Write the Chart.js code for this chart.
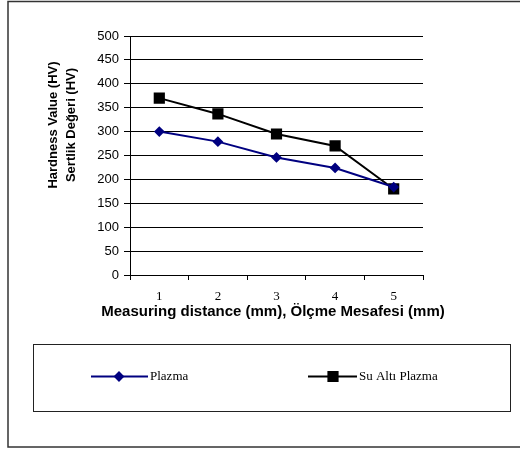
<!DOCTYPE html>
<html>
<head>
<meta charset="utf-8">
<script src="https://cdn.jsdelivr.net/npm/chart.js@4"></script>
<style>
    body { margin: 0; background: #fff; }
    canvas { display: block; }
</style>
</head>
<body>
<canvas id="hardness-chart" width="520" height="450"></canvas>
<script>
// values
const categories = ['1', '2', '3', '4', '5'];
const plazmaValues = [300, 279, 246, 224, 184];
const suAltiValues = [370, 337, 295, 270, 180];
const seriesNames = ['Plazma', 'Su Altı Plazma'];
const yMin = 0;
const yMax = 500;
const yStep = 50;
const xTitle = 'Measuring distance (mm), Ölçme Mesafesi (mm)';
const yTitleLines = ['Hardness Value (HV)', 'Sertlik Değeri (HV)'];

// draws the outer frame, the boxed legend and the axis titles
// (the x title is wider than the plot, so chart.js would squash it)
const framePlugin = {
    id: 'frame',
    afterDraw(chart) {
        const ctx = chart.ctx;
        ctx.save();

        // outer frame (right side runs off the picture)
        ctx.strokeStyle = '#333';
        ctx.lineWidth = 1.5;
        ctx.strokeRect(8, 1.5, 530, 445.5);

        // legend box
        ctx.strokeStyle = '#222';
        ctx.lineWidth = 1;
        ctx.strokeRect(33.5, 344.5, 477, 67);

        const items = [
            { x: 91, w: 57, mark: 119 },
            { x: 308, w: 49, mark: 333 }
        ];
        chart.data.datasets.forEach((ds, i) => {
            const it = items[i];
            const y = 376.5;
            ctx.strokeStyle = ds.borderColor;
            ctx.lineWidth = 2;
            ctx.beginPath();
            ctx.moveTo(it.x, y);
            ctx.lineTo(it.x + it.w, y);
            ctx.stroke();
            Chart.helpers.drawPoint(ctx, {
                pointStyle: ds.pointStyle,
                radius: ds.pointRadius,
                borderWidth: 1,
                rotation: 0
            }, it.mark, y);
            ctx.fillStyle = ds.pointBackgroundColor;
            ctx.fill();
            ctx.fillStyle = '#000';
            ctx.font = '13px "Liberation Serif", "Times New Roman", serif';
            ctx.textAlign = 'left';
            ctx.textBaseline = 'middle';
            ctx.fillText(ds.label, it.x + it.w + 2, y);
        });

        ctx.fillStyle = '#000';
        ctx.textAlign = 'center';
        ctx.textBaseline = 'middle';

        // x axis title
        ctx.font = 'bold 15px "Liberation Sans", Arial, sans-serif';
        ctx.fillText(xTitle, 273, 312);

        // y axis title, two rotated lines
        ctx.font = 'bold 13px "Liberation Sans", Arial, sans-serif';
        yTitleLines.forEach((line, i) => {
            ctx.save();
            ctx.translate(53 + i * 18, 125);
            ctx.rotate(-Math.PI / 2);
            ctx.fillText(line, 0, 0);
            ctx.restore();
        });

        ctx.restore();
    }
};

const hardnessChart = new Chart(document.getElementById('hardness-chart').getContext('2d'), {
    type: 'line',
    data: {
        labels: categories,
        datasets: [{
            label: seriesNames[0],
            data: plazmaValues,
            borderColor: '#000080',
            backgroundColor: '#000080',
            pointBackgroundColor: '#000080',
            pointBorderColor: '#000080',
            pointStyle: 'rectRot',
            pointRadius: 4,
            borderWidth: 2,
            tension: 0,
            fill: false
        }, {
            label: seriesNames[1],
            data: suAltiValues,
            borderColor: '#000000',
            backgroundColor: '#000000',
            pointBackgroundColor: '#000000',
            pointBorderColor: '#000000',
            pointStyle: 'rect',
            pointRadius: 6.5,
            borderWidth: 2,
            tension: 0,
            fill: false
        }]
    },
    options: {
        responsive: false,
        animation: false,
        devicePixelRatio: 1,
        layout: {
            padding: { left: 0, top: 36, right: 97, bottom: 120 }
        },
        plugins: {
            legend: { display: false },
            tooltip: { enabled: false }
        },
        scales: {
            x: {
                offset: true,
                grid: {
                    offset: true,
                    drawOnChartArea: false,
                    drawTicks: true,
                    tickLength: 5,
                    color: '#000'
                },
                border: { display: true, color: '#000', width: 1 },
                ticks: {
                    color: '#000',
                    padding: 9,
                    font: { family: '"Liberation Serif", "Times New Roman", serif', size: 13 }
                },
                afterFit(scale) {
                    scale.height = 55;
                }
            },
            y: {
                min: yMin,
                max: yMax,
                grid: {
                    color: '#000',
                    tickLength: 6,
                    drawTicks: true
                },
                border: { display: true, color: '#000', width: 1 },
                ticks: {
                    stepSize: yStep,
                    color: '#000',
                    padding: 5,
                    font: { family: '"Liberation Sans", Arial, sans-serif', size: 13 }
                },
                afterFit(scale) {
                    scale.width = 130;
                }
            }
        }
    },
    plugins: [framePlugin]
});
</script>
</body>
</html>
